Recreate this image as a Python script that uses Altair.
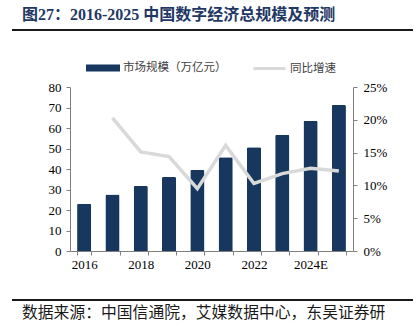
import altair as alt
import pandas as pd

years = ["2016", "2017", "2018", "2019", "2020", "2021", "2022", "2023", "2024E", "2025E"]
market = [23.0, 27.6, 31.7, 36.1, 39.5, 45.7, 50.6, 56.7, 63.5, 71.2]
growth = [None, 0.203, 0.151, 0.144, 0.095, 0.161, 0.103, 0.118, 0.126, 0.122]
shown_labels = ["2016", "2018", "2020", "2022", "2024E"]

title_text = "图27：2016-2025 中国数字经济总规模及预测"
source_text = "数据来源：中国信通院，艾媒数据中心，东吴证券研"
bar_name = "市场规模（万亿元）"
line_name = "同比增速"

df = pd.DataFrame({"year": years, "market": market, "growth": growth,
                   "s1": bar_name, "s2": line_name})

NAVY = "#17375e"
GRAY_LINE = "#d9d9d9"
SERIF = "Liberation Serif"
CJK = "Noto Sans CJK SC"

xenc = alt.X("year:N", sort=years, title=None,
             scale=alt.Scale(paddingInner=0.5, paddingOuter=0.25),
             axis=alt.Axis(labelAngle=0, tickBand="extent", labelFont=SERIF, labelFontSize=13,
                           labelColor="#000", domainColor="#808080", tickColor="#808080",
                           tickSize=4, labelPadding=3,
                           labelExpr="indexof(" + str(shown_labels) + ", datum.label) >= 0 ? datum.label : ''"))

bars = alt.Chart(df).mark_bar(color=NAVY, cornerRadiusTopLeft=1.5, cornerRadiusTopRight=1.5).encode(
    x=xenc,
    y=alt.Y("market:Q", title=None, scale=alt.Scale(domain=[0, 80]),
            axis=alt.Axis(values=list(range(0, 81, 10)), grid=False, labelFont=SERIF, labelFontSize=13,
                          labelColor="#000", domainColor="#808080", tickColor="#808080", tickSize=4,
                          labelPadding=5)),
    color=alt.Color("s1:N", scale=alt.Scale(range=[NAVY]),
                    legend=alt.Legend(title=None, orient="none", legendX=16, legendY=-36,
                                      symbolType="M-1,-0.2H1V0.2H-1Z", symbolSize=1156,
                                      symbolStrokeWidth=0, labelFont=CJK, labelFontSize=11.5,
                                      labelColor="#404040", labelOffset=3, padding=0)),
)

line = alt.Chart(df).mark_line(strokeWidth=3.5).encode(
    x=alt.X("year:N", sort=years),
    y=alt.Y("growth:Q", title=None, scale=alt.Scale(domain=[0, 0.25]),
            axis=alt.Axis(orient="right", values=[0, 0.05, 0.1, 0.15, 0.2, 0.25], format=".0%",
                          grid=False, labelFont=SERIF, labelFontSize=13, labelColor="#000",
                          domainColor="#808080", tickColor="#808080", tickSize=4, labelPadding=6)),
    color=alt.Color("s2:N", scale=alt.Scale(range=[GRAY_LINE]),
                    legend=alt.Legend(title=None, orient="none", legendX=182, legendY=-36,
                                      symbolType="stroke", symbolSize=1024, symbolStrokeWidth=3,
                                      labelFont=CJK, labelFontSize=11.5, labelColor="#404040",
                                      labelOffset=3, padding=0)),
)

one = pd.DataFrame({"a": [0]})
title = alt.Chart(pd.DataFrame({"t": [title_text]})).mark_text(
    align="left", baseline="middle", font="Liberation Serif, Noto Sans CJK SC", fontSize=16,
    fontWeight="bold", color="#1f3864"
).encode(text="t:N", x=alt.value(-48), y=alt.value(-72))

rule_top = alt.Chart(one).mark_rule(color="#1a1a1a", strokeWidth=2).encode(
    x=alt.value(-58), x2=alt.value(343), y=alt.value(-57))
rule_bottom = alt.Chart(one).mark_rule(color="#1a1a1a", strokeWidth=2).encode(
    x=alt.value(-58), x2=alt.value(343), y=alt.value(213))

source = alt.Chart(pd.DataFrame({"t": [source_text]})).mark_text(
    align="left", baseline="middle", font=CJK, fontSize=15.8, color="#1a1a1a"
).encode(text="t:N", x=alt.value(-48), y=alt.value(226))

chart = alt.layer(bars, line, title, rule_top, rule_bottom, source).resolve_scale(
    y="independent", color="independent"
).properties(
    width=283, height=164,
    autosize=alt.AutoSizeParams(type="none"),
    padding={"left": 70, "top": 87, "right": 63, "bottom": 78},
    background="white",
).configure_view(stroke=None)

chart.save("out.html", embed_options={"renderer": "svg", "actions": False})
